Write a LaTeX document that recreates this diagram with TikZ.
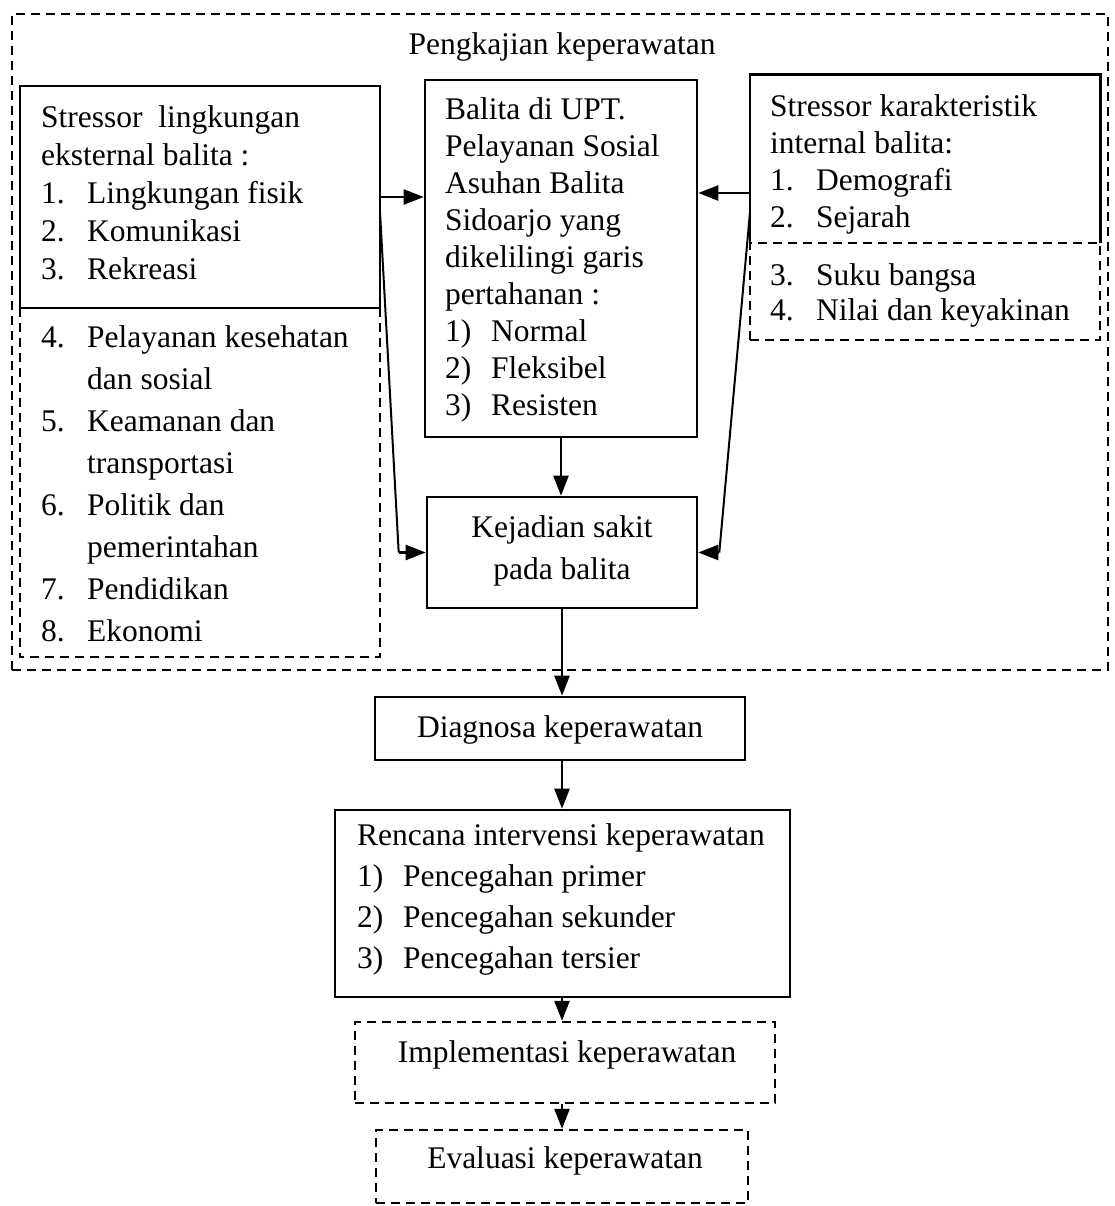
\documentclass[tikz,border=0pt]{standalone}
\usepackage{fontspec}
\setmainfont{Liberation Serif}
\usetikzlibrary{arrows.meta,fit}

\newcommand{\nm}[1]{\makebox[46pt][l]{#1}}
\newcommand{\rows}[1]{\begin{tabular}[t]{@{}l@{}}#1\end{tabular}}
\newcommand{\crows}[1]{\begin{tabular}[t]{@{}c@{}}#1\end{tabular}}

\begin{document}
\begin{tikzpicture}[x=1pt, y=-1pt,
  every node/.style={font=\fontsize{31.5}{37}\selectfont, inner sep=0pt},
  box/.style={draw, line width=2.6pt},
  dbox/.style={draw, line width=2.4pt, dash pattern=on 9pt off 6pt},
  txt/.style={anchor=base west},
  ctxt/.style={anchor=base},
  arr/.style={line width=2.4pt, -{Triangle[length=20pt,width=15pt]}},
  link/.style={line width=2pt}]
  \useasboundingbox (0,0) rectangle (1114,1206);

  % pengkajian
  \node[dbox, fit={(12,14) (1108,670)}] (outer) {};
  \node[ctxt] (ttl) at (562,55) {Pengkajian keperawatan};

  \node[box, fit={(20,86) (380,308)}] (extA) {};
  \node[fit={(20,308) (380,657)}] (extB) {};
  \draw[dbox] (extB.north west) |- (extB.south east) -- (extB.north east);
  \node[txt, font=\fontsize{31.5}{38}\selectfont] (extAt) at (41,128)
    {\rows{Stressor\ \ lingkungan\\ eksternal balita :\\ \nm{1.}Lingkungan fisik\\
      \nm{2.}Komunikasi\\ \nm{3.}Rekreasi}};
  \node[txt, font=\fontsize{31.5}{42}\selectfont] (extBt) at (41,347)
    {\rows{\nm{4.}Pelayanan kesehatan\\ \nm{}dan sosial\\ \nm{5.}Keamanan dan\\
      \nm{}transportasi\\ \nm{6.}Politik dan\\ \nm{}pemerintahan\\
      \nm{7.}Pendidikan\\ \nm{8.}Ekonomi}};

  \node[box, fit={(425,80) (697,437)}] (balita) {};
  \node[txt] (balitat) at (445,120)
    {\rows{Balita di UPT.\\ Pelayanan Sosial\\ Asuhan Balita\\ Sidoarjo yang\\
      dikelilingi garis\\ pertahanan :\\ \nm{1)}Normal\\ \nm{2)}Fleksibel\\ \nm{3)}Resisten}};

  \node[fit={(750,75) (1100,243)}] (intA) {};
  \draw[box] (intA.south west) |- (intA.north east) -- (intA.south east);
  \node[dbox, fit={(750,243) (1100,340)}] (intB) {};
  \node[txt] (intAt) at (770,117)
    {\rows{Stressor karakteristik\\ internal balita:\\ \nm{1.}Demografi\\ \nm{2.}Sejarah}};
  \node[txt, font=\fontsize{31.5}{35}\selectfont] (intBt) at (770,285)
    {\rows{\nm{3.}Suku bangsa\\ \nm{4.}Nilai dan keyakinan}};

  \node[box, fit={(427,497) (697,608)}] (sakit) {};
  \node[ctxt, font=\fontsize{31.5}{42}\selectfont] (sakitt) at (562,537)
    {\crows{Kejadian sakit\\ pada balita}};

  % alur
  \node[box, fit={(375,697) (745,760)}] (diag) {};
  \node[ctxt] (diagt) at (560,737) {Diagnosa keperawatan};

  \node[box, fit={(335,810) (790,997)}] (renc) {};
  \node[txt, font=\fontsize{31.5}{41}\selectfont] (renct) at (357,845)
    {\rows{Rencana intervensi keperawatan\\ \nm{1)}Pencegahan primer\\
      \nm{2)}Pencegahan sekunder\\ \nm{3)}Pencegahan tersier}};

  \node[dbox, fit={(355,1022) (775,1103)}] (impl) {};
  \node[ctxt] (implt) at (567,1062) {Implementasi keperawatan};

  \node[dbox, fit={(376,1130) (748,1203)}] (eval) {};
  \node[ctxt] (evalt) at (565,1168) {Evaluasi keperawatan};

  % panah
  \coordinate (lj) at (380,212);
  \coordinate (rj) at (750,193);
  \coordinate (rk) at (750,212);
  \draw[arr] (extA.east) -- (extA.east -| balita.west);
  \draw[arr] (rj) -- (rj -| balita.east);
  \draw[link] (lj) -- ([xshift=-27pt]sakit.west);
  \draw[arr] ([xshift=-27pt]sakit.west) -- (sakit.west);
  \draw[link] (rk) -- ([xshift=21pt]sakit.east);
  \draw[arr] ([xshift=21pt]sakit.east) -- (sakit.east);
  \draw[arr] (balita.south) -- (balita.south |- sakit.north);
  \draw[arr] (sakit.south) -- (sakit.south |- diag.north);
  \draw[arr] (diag.south -| sakit.south) -- (sakit.south |- renc.north);
  \draw[arr] (renc.south -| sakit.south) -- (sakit.south |- impl.north);
  \draw[arr] (impl.south -| sakit.south) -- (sakit.south |- eval.north);
\end{tikzpicture}
\end{document}
